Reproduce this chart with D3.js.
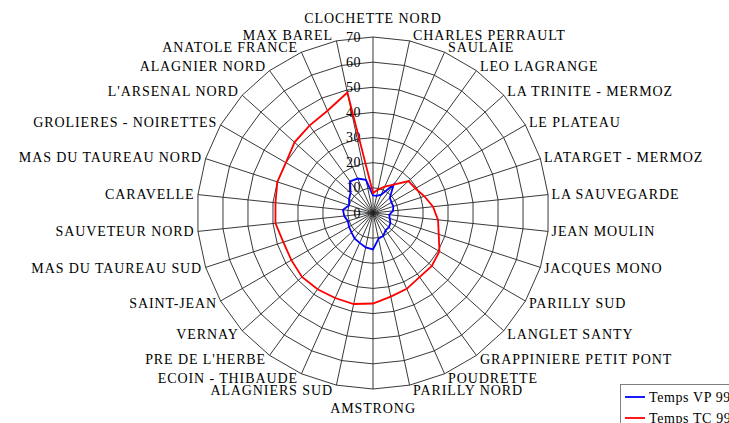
<!DOCTYPE html>
<html>
<head>
<meta charset="utf-8">
<script src="https://cdn.jsdelivr.net/npm/d3@7"></script>
<style>
body { margin: 0; background: #fff; overflow: hidden; }
text { font-family: "Liberation Serif", "DejaVu Serif", serif; fill: #000; }
</style>
</head>
<body>
<div id="chart"></div>
<script>
// categories, clockwise from the top
var categories = ["CLOCHETTE NORD", "CHARLES PERRAULT", "SAULAIE", "LEO LAGRANGE",
  "LA TRINITE - MERMOZ", "LE PLATEAU", "LATARGET - MERMOZ", "LA SAUVEGARDE",
  "JEAN MOULIN", "JACQUES MONO", "PARILLY SUD", "LANGLET SANTY",
  "GRAPPINIERE PETIT PONT", "POUDRETTE", "PARILLY NORD", "AMSTRONG",
  "ALAGNIERS SUD", "ECOIN - THIBAUDE", "PRE DE L'HERBE", "VERNAY", "SAINT-JEAN",
  "MAS DU TAUREAU SUD", "SAUVETEUR NORD", "CARAVELLE", "MAS DU TAUREAU NORD",
  "GROLIERES - NOIRETTES", "L'ARSENAL NORD", "ALAGNIER NORD", "ANATOLE FRANCE",
  "MAX BAREL"];

var tempsVP = [7, 7, 8, 14, 9, 8.5, 8.5, 8, 6.5, 7, 8, 8.5, 8.5, 10, 10.5,
  14.5, 14, 13, 12.5, 11.5, 11, 10.5, 11.5, 12, 10, 11, 12, 15.5, 15, 13.5];

var tempsTC = [8, 9.5, 11.5, 14, 19, 19.5, 21.5, 24, 26, 27.5, 30.5, 31.5,
  31.5, 33, 34, 36, 37, 37, 37.5, 38, 37.5, 37.5, 39, 39, 40, 40, 42, 43,
  44.5, 49];

var ticks = [0, 10, 20, 30, 40, 50, 60, 70];

var seriesNames = ["Temps VP 99", "Temps TC 99"];
var seriesColors = ["#0000ff", "#ff0000"];

var width = 729, height = 423;
var cx = 373, cy = 213, R = 176;

var svg = d3.select("#chart").append("svg")
  .attr("width", width)
  .attr("height", height);

var g = svg.append("g")
  .attr("transform", "translate(" + cx + "," + cy + ")");

var r = d3.scaleLinear().domain([0, 70]).range([0, R]);
var angle = d3.scaleLinear().domain([0, categories.length]).range([0, 2 * Math.PI]);

// polygon rings
var ring = d3.lineRadial()
  .angle(function (d, i) { return angle(i); })
  .radius(function (d) { return r(d); })
  .curve(d3.curveLinearClosed);

g.selectAll(".ring")
  .data(ticks.slice(1))
  .enter().append("path")
  .attr("d", function (t) { return ring(categories.map(function () { return t; })); })
  .attr("fill", "none")
  .attr("stroke", "#222")
  .attr("stroke-width", 0.9);

// spokes
g.selectAll(".spoke")
  .data(categories)
  .enter().append("line")
  .attr("x1", 0).attr("y1", 0)
  .attr("x2", function (d, i) { return r(70) * Math.sin(angle(i)); })
  .attr("y2", function (d, i) { return -r(70) * Math.cos(angle(i)); })
  .attr("stroke", "#222")
  .attr("stroke-width", 0.9);

// tick labels on the vertical axis
g.selectAll(".tick")
  .data(ticks)
  .enter().append("text")
  .attr("x", -12)
  .attr("y", function (d) { return -r(d); })
  .attr("text-anchor", "end")
  .attr("dominant-baseline", "central")
  .style("font-size", "14px")
  .style("letter-spacing", "0.5px")
  .text(function (d) { return d; });

// category labels
g.selectAll(".cat")
  .data(categories)
  .enter().append("text")
  .attr("x", function (d, i) {
    var s = Math.sin(angle(i));
    if (Math.abs(s) < 0.01) return 0;
    return r(70) * s + (s > 0 ? 3.5 : -3.5);
  })
  .attr("y", function (d, i) {
    var c = Math.cos(angle(i)), s = Math.sin(angle(i));
    if (Math.abs(s) < 0.01) return -r(70) * c - 19 * c;
    return -r(70) * c - 5 * c;
  })
  .attr("text-anchor", function (d, i) {
    var s = Math.sin(angle(i));
    if (Math.abs(s) < 0.01) return "middle";
    return s > 0 ? "start" : "end";
  })
  .attr("dominant-baseline", "central")
  .style("font-size", "14px")
  .style("letter-spacing", "0.9px")
  .text(function (d) { return d; });

// series
var valueline = d3.lineRadial()
  .angle(function (d, i) { return angle(i); })
  .radius(function (d) { return r(d); })
  .curve(d3.curveLinearClosed);

[tempsVP, tempsTC].forEach(function (vals, k) {
  g.append("path")
    .attr("d", valueline(vals))
    .attr("fill", "none")
    .attr("stroke", seriesColors[k])
    .attr("stroke-width", 1.8);
});

// legend (runs off the right edge as in the original)
var legend = svg.append("g").attr("transform", "translate(620,384)");
legend.append("rect")
  .attr("x", 0.5).attr("y", 0.5)
  .attr("width", 130).attr("height", 60)
  .attr("fill", "#fff")
  .attr("stroke", "#808080");

seriesNames.forEach(function (name, k) {
  var y = 13 + k * 21;
  legend.append("line")
    .attr("x1", 5).attr("x2", 25)
    .attr("y1", y).attr("y2", y)
    .attr("stroke", seriesColors[k])
    .attr("stroke-width", 1.8);
  legend.append("text")
    .attr("x", 29).attr("y", y)
    .attr("dominant-baseline", "central")
    .style("font-size", "14px")
    .style("letter-spacing", "0.6px")
    .text(name);
});
</script>
</body>
</html>
